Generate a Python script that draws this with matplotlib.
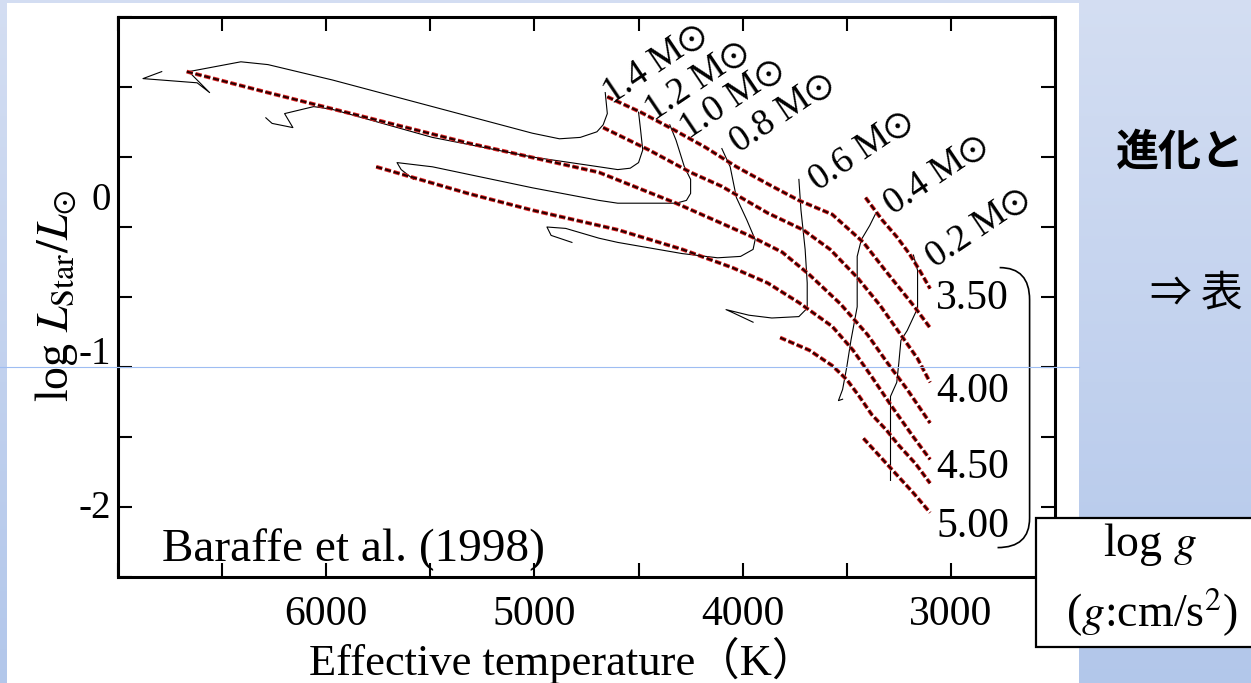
import numpy as np
import matplotlib
matplotlib.use("Agg")
import matplotlib.pyplot as plt
from matplotlib.patches import Rectangle, PathPatch
from matplotlib.path import Path
from matplotlib.lines import Line2D
from matplotlib.ticker import MultipleLocator
from matplotlib.transforms import ScaledTranslation

# evolutionary tracks, Teff [K] and log L/Lsun
teff_14 = [4660, 4650, 4670, 4700, 4780, 4880, 5010, 5490, 5970, 6280, 6410, 6660, 6560, 6620, 6880, 6790]
logl_14 = [0.96, 0.81, 0.73, 0.68, 0.64, 0.63, 0.67, 0.86, 1.05, 1.16, 1.18, 1.11, 0.96, 1.03, 1.06, 1.11]
teff_12 = [4500, 4490, 4480, 4500, 4540, 4600, 4690, 5010, 5490, 5970, 6060, 6200, 6160, 6260, 6290]
logl_12 = [0.82, 0.69, 0.55, 0.46, 0.42, 0.41, 0.43, 0.50, 0.64, 0.84, 0.86, 0.81, 0.71, 0.74, 0.78]
teff_10 = [4350, 4320, 4280, 4250, 4250, 4270, 4320, 4600, 4690, 5010, 5490, 5660, 5640, 5580]
logl_10 = [0.73, 0.62, 0.43, 0.34, 0.24, 0.19, 0.17, 0.17, 0.19, 0.28, 0.43, 0.46, 0.41, 0.34]
teff_08 = [4100, 4060, 4030, 3980, 3940, 3950, 4010, 4120, 4290, 4600, 4690, 4850, 4940, 4920, 4820]
logl_08 = [0.56, 0.43, 0.21, 0.05, -0.09, -0.16, -0.21, -0.22, -0.19, -0.11, -0.08, -0.01, 0.00, -0.06, -0.11]
teff_06 = [3730, 3720, 3700, 3690, 3690, 3730, 3860, 3970, 4080, 4050, 3950]
logl_06 = [0.34, 0.12, -0.16, -0.40, -0.58, -0.64, -0.65, -0.63, -0.59, -0.61, -0.68]
teff_04 = [3360, 3390, 3430, 3450, 3450, 3450, 3480, 3500, 3520, 3540, 3520]
logl_04 = [0.10, 0.01, -0.09, -0.21, -0.38, -0.57, -0.81, -1.00, -1.16, -1.24, -1.23]
teff_02 = [3180, 3160, 3160, 3160, 3210, 3240, 3250, 3260, 3290, 3290, 3290]
logl_02 = [-0.20, -0.31, -0.54, -0.58, -0.74, -0.81, -0.97, -1.11, -1.21, -1.47, -1.81]

# lines of constant surface gravity (log g = 3.50 ... 5.00)
teff_g350 = [3410, 3330, 3260, 3200, 3150, 3100]
logl_g350 = [0.21, 0.05, -0.07, -0.19, -0.31, -0.44]
teff_g375 = [4650, 4490, 4350, 4180, 4030, 3870, 3730, 3570, 3420, 3310, 3180, 3100]
logl_g375 = [0.93, 0.82, 0.71, 0.57, 0.43, 0.30, 0.19, 0.09, -0.11, -0.32, -0.56, -0.72]
teff_g400 = [4670, 4450, 4250, 4100, 3880, 3710, 3580, 3450, 3340, 3250, 3160, 3100]
logl_g400 = [0.71, 0.55, 0.39, 0.29, 0.10, -0.02, -0.16, -0.36, -0.56, -0.75, -0.94, -1.11]
teff_g425 = [6670, 6280, 5800, 5320, 4690, 4320, 3970, 3810, 3680, 3530, 3400, 3310, 3210, 3100]
logl_g425 = [1.11, 0.96, 0.78, 0.60, 0.39, 0.17, -0.06, -0.18, -0.34, -0.55, -0.77, -0.96, -1.16, -1.40]
teff_g450 = [5760, 5320, 5010, 4600, 4290, 4050, 3880, 3730, 3570, 3470, 3380, 3280, 3180, 3100]
logl_g450 = [0.43, 0.24, 0.12, -0.02, -0.16, -0.29, -0.40, -0.54, -0.71, -0.88, -1.07, -1.29, -1.50, -1.66]
teff_g475 = [3820, 3680, 3570, 3500, 3440, 3380, 3310, 3250, 3170, 3100]
logl_g475 = [-0.79, -0.88, -0.99, -1.09, -1.21, -1.34, -1.45, -1.56, -1.69, -1.83]
teff_g500 = [3420, 3340, 3260, 3180, 3100]
logl_g500 = [-1.51, -1.64, -1.77, -1.90, -2.04]

mass_names = ["1.4", "1.2", "1.0", "0.8", "0.6", "0.4", "0.2"]
logg_names = ["3.50", "4.00", "4.50", "5.00"]

tracks = [(teff_14, logl_14), (teff_12, logl_12), (teff_10, logl_10), (teff_08, logl_08),
          (teff_06, logl_06), (teff_04, logl_04), (teff_02, logl_02)]
gravity_lines = [(teff_g350, logl_g350), (teff_g375, logl_g375), (teff_g400, logl_g400),
                 (teff_g425, logl_g425), (teff_g450, logl_g450), (teff_g475, logl_g475),
                 (teff_g500, logl_g500)]

# where the labels sit (layout)
mass_label_xy = [(4420, 1.16), (4220, 1.04), (4050, 0.91), (3810, 0.81),
                 (3430, 0.54), (3070, 0.37), (2870, -0.01)]
logg_label_y = [-0.51, -1.18, -1.72, -2.14]

plt.rcParams["font.family"] = ["Liberation Serif", "Noto Sans CJK JP"]
plt.rcParams["mathtext.fontset"] = "stix"
plt.rcParams["axes.unicode_minus"] = False
plt.rcParams["lines.scale_dashes"] = False

W, H = 1251, 683
fig = plt.figure(figsize=(W / 100, H / 100), dpi=100)


def fx(px):
    return px / W


def fy(py):
    return 1 - py / H


# slide background
bg = fig.add_axes([0, 0, 1, 1], zorder=-10)
shade = np.linspace(0, 1, 200)[:, None, None]
top_c = np.array([0.83, 0.87, 0.95])
bot_c = np.array([0.70, 0.78, 0.92])
bg.imshow(top_c + (bot_c - top_c) * shade, aspect="auto", extent=(0, 1, 0, 1))
bg.set_xlim(0, 1)
bg.set_ylim(0, 1)
bg.set_axis_off()
fig.add_artist(Rectangle((fx(7), 0), fx(1079) - fx(7), fy(3), transform=fig.transFigure,
                         facecolor="white", edgecolor="none", zorder=-5))

ax = fig.add_axes([fx(118), fy(577), fx(1055) - fx(118), fy(17) - fy(577)])

for t, l in tracks:
    ax.plot(t, l, color="black", lw=0.8, solid_joinstyle="round")
for t, l in gravity_lines:
    ax.plot(t, l, color="#e02424", lw=2.8, ls=(0, (4.5, 2.0)))
    ax.plot(t, l, color="#2a0000", lw=1.5, ls=(0, (4.5, 2.0)))

ax.set_xlim(7000, 2500)
ax.set_ylim(-2.5, 1.5)
ax.set_xticks([6000, 5000, 4000, 3000])
ax.xaxis.set_minor_locator(MultipleLocator(500))
ax.set_yticks([-2, -1, 0])
ax.yaxis.set_minor_locator(MultipleLocator(0.5))
ax.tick_params(which="both", direction="in", top=True, right=True, length=10, width=1.5)
ax.tick_params(axis="x", labelsize=30, pad=13)
ax.tick_params(axis="y", labelsize=28, pad=5)
for s in ax.spines.values():
    s.set_linewidth(2.2)

# the y tick labels sit a little above their ticks in the original
for tick, dy in zip(ax.yaxis.get_major_ticks(), [3, 17, 31]):
    tick.label1.set_transform(tick.label1.get_transform()
                              + ScaledTranslation(0, dy / 100, fig.dpi_scale_trans))

ax.set_xlabel("Effective temperature（K）", fontsize=32)
ax.xaxis.set_label_coords((563 - 118) / 937, (577 - 637) / 560)
ax.set_ylabel(r"log $L_{\rm Star}/L_{\odot}$", fontsize=33)
ax.yaxis.set_label_coords((56 - 118) / 937, (577 - 296) / 560)
ax.yaxis.label.set_va("center")

for name, (t, l) in zip(mass_names, mass_label_xy):
    ax.text(t, l, name + r" M$\odot$", rotation=34, rotation_mode="anchor",
            ha="center", va="center", fontsize=27)

for name, l in zip(logg_names, logg_label_y):
    ax.text(3070, l, name, ha="left", va="center", fontsize=30)

ax.text(0.047, 0.048, "Baraffe et al. (1998)", transform=ax.transAxes,
        ha="left", va="center", fontsize=34)

# bracket grouping the log g labels
brace = Path([(2766, -0.29), (2622, -0.29), (2622, -0.52), (2622, -2.08), (2622, -2.29), (2776, -2.29)],
             [Path.MOVETO, Path.CURVE3, Path.CURVE3, Path.LINETO, Path.CURVE3, Path.CURVE3])
ax.add_patch(PathPatch(brace, facecolor="none", edgecolor="black", lw=1.2, clip_on=False))

# log g box
fig.add_artist(Rectangle((fx(1036), fy(647)), fx(1262) - fx(1036), fy(518) - fy(647),
                         transform=fig.transFigure, facecolor="white", edgecolor="black",
                         lw=1.6, zorder=5))
fig.text(fx(1150), fy(545), r"log $g$", ha="center", va="center", fontsize=33, zorder=6)
fig.text(fx(1152), fy(613), r"($g$:cm/s$^2$)", ha="center", va="center", fontsize=33, zorder=6)

# thin slide line across the picture
fig.add_artist(Line2D([0, fx(1079)], [fy(367), fy(367)], transform=fig.transFigure,
                      color=(0.62, 0.74, 0.95), lw=0.8, zorder=3))

# slide text on the right
fig.text(fx(1116), fy(152), "進化と", ha="left", va="center", fontsize=31,
         fontweight="bold", family=["Noto Sans CJK JP"])
fig.text(fx(1150), fy(294), "⇒ 表", ha="left", va="center", fontsize=30,
         family=["Noto Sans CJK JP", "DejaVu Sans"])

fig.savefig("out.png", dpi=100)
